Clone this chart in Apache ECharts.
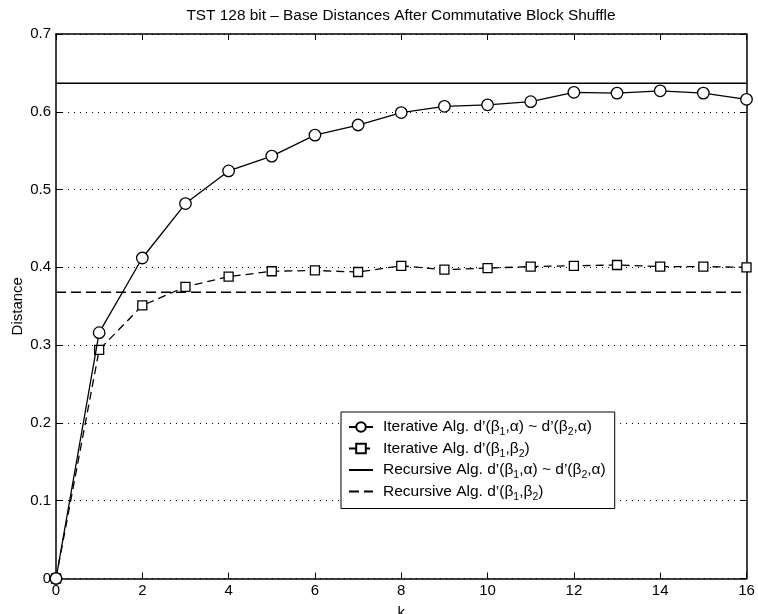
<!DOCTYPE html>
<html>
<head>
<meta charset="utf-8">
<script src="https://cdn.jsdelivr.net/npm/echarts@6/dist/echarts.min.js"></script>
<style>
    html, body { margin: 0; padding: 0; background: #fff; }
    #main { width: 758px; height: 614px; }
</style>
</head>
<body>
<div id="main"></div>
<script>
// 数据
var kValues = [0, 1, 2, 3, 4, 5, 6, 7, 8, 9, 10, 11, 12, 13, 14, 15, 16];
var iterAlpha = [0, 0.316, 0.412, 0.482, 0.524, 0.543, 0.570, 0.583, 0.599, 0.607, 0.609, 0.613, 0.625, 0.624, 0.627, 0.624, 0.616];
var iterBeta = [0, 0.294, 0.351, 0.375, 0.388, 0.395, 0.396, 0.394, 0.402, 0.397, 0.399, 0.401, 0.402, 0.403, 0.401, 0.401, 0.400];
var recKEnds = [0, 16];
var recAlpha = [0.6366, 0.6366];
var recBeta = [0.3679, 0.3679];
var seriesNames = [
    'Iterative Alg. d’(β1,α) ~ d’(β2,α)',
    'Iterative Alg. d’(β1,β2)',
    'Recursive Alg. d’(β1,α) ~ d’(β2,α)',
    'Recursive Alg. d’(β1,β2)'
];

function pairs(xs, ys) {
    return xs.map(function (x, i) { return [x, ys[i]]; });
}

var FONT = "'Liberation Sans', Arial, Helvetica, sans-serif";

{
    var dom = document.getElementById('main');
    var myChart = echarts.init(dom);

    var option = {
        animation: false,
        backgroundColor: '#fff',
        textStyle: { fontFamily: FONT, color: '#000' },
        title: {
            text: 'TST 128 bit – Base Distances After Commutative Block Shuffle',
            left: 401,
            textAlign: 'center',
            top: 8,
            padding: 0,
            textStyle: { fontFamily: FONT, fontSize: 15.4, fontWeight: 'normal', color: '#000' }
        },
        grid: { left: 56, right: 11.5, top: 34, bottom: 35.5, outerBoundsMode: 'none', containLabel: false },
        legend: {
            orient: 'vertical',
            left: 341,
            top: 412,
            padding: [7, 9, 6, 7],
            itemGap: 2.5,
            itemWidth: 24,
            itemHeight: 12,
            borderColor: '#000',
            borderWidth: 1,
            borderRadius: 0,
            backgroundColor: '#fff',
            data: seriesNames,
            formatter: function (name) {
                return '{n|' + name.replace(/β(\d)/g, 'β}{s|$1}{n|') + '}';
            },
            textStyle: {
                fontFamily: FONT,
                color: '#000',
                padding: [0, 0, 0, 5],
                rich: {
                    n: { fontFamily: FONT, fontSize: 15.5, color: '#000', lineHeight: 22, verticalAlign: 'middle' },
                    s: { fontFamily: FONT, fontSize: 10.5, color: '#000', lineHeight: 22, verticalAlign: 'bottom' }
                }
            }
        },
        xAxis: [{
            type: 'value',
            min: 0,
            max: 16,
            interval: 2,
            name: 'k',
            nameLocation: 'middle',
            nameGap: 27,
            nameMoveOverlap: false,
            nameTextStyle: { fontFamily: FONT, fontSize: 15, color: '#000' },
            axisLine: { onZero: false, lineStyle: { color: '#000', width: 1.5 } },
            axisTick: { inside: true, length: 6, lineStyle: { color: '#000', width: 1 } },
            axisLabel: { margin: 5, fontFamily: FONT, fontSize: 15, color: '#000' },
            splitLine: { show: false }
        }, {
            type: 'value',
            position: 'top',
            min: 0,
            max: 16,
            interval: 2,
            axisLine: { show: true, onZero: false, lineStyle: { color: '#000', width: 1.5 } },
            axisTick: { inside: true, length: 6, lineStyle: { color: '#000', width: 1 } },
            axisLabel: { show: false },
            splitLine: { show: false }
        }],
        yAxis: [{
            type: 'value',
            min: 0,
            max: 0.7,
            interval: 0.1,
            name: 'Distance',
            nameLocation: 'middle',
            nameGap: 31,
            nameMoveOverlap: false,
            nameTextStyle: { fontFamily: FONT, fontSize: 15, color: '#000' },
            axisLine: { show: true, onZero: false, lineStyle: { color: '#000', width: 1.5 } },
            axisTick: { show: true, inside: true, length: 6, lineStyle: { color: '#000', width: 1 } },
            axisLabel: { margin: 5, fontFamily: FONT, fontSize: 15, color: '#000' },
            splitLine: { show: true, lineStyle: { color: '#000', width: 1, type: [1, 5] } }
        }, {
            type: 'value',
            position: 'right',
            min: 0,
            max: 0.7,
            interval: 0.1,
            axisLine: { show: true, onZero: false, lineStyle: { color: '#000', width: 1.5 } },
            axisTick: { show: true, inside: true, length: 6, lineStyle: { color: '#000', width: 1 } },
            axisLabel: { show: false },
            splitLine: { show: false }
        }],
        series: [
            {
                name: seriesNames[0],
                type: 'line',
                data: pairs(kValues, iterAlpha),
                symbol: 'circle',
                symbolSize: 11.5,
                lineStyle: { color: '#000', width: 1.3 },
                itemStyle: { color: '#fff', borderColor: '#000', borderWidth: 1.3 },
                z: 4
            },
            {
                name: seriesNames[1],
                type: 'line',
                data: pairs(kValues, iterBeta),
                symbol: 'rect',
                symbolSize: 9,
                lineStyle: { color: '#000', width: 1.3, type: [8, 5] },
                itemStyle: { color: '#fff', borderColor: '#000', borderWidth: 1.3 },
                z: 3
            },
            {
                name: seriesNames[2],
                type: 'line',
                data: pairs(recKEnds, recAlpha),
                symbol: 'none',
                lineStyle: { color: '#000', width: 1.5 },
                itemStyle: { color: 'rgba(0,0,0,0)', borderWidth: 0 },
                z: 2
            },
            {
                name: seriesNames[3],
                type: 'line',
                data: pairs(recKEnds, recBeta),
                symbol: 'none',
                lineStyle: { color: '#000', width: 1.5, type: [10, 5] },
                itemStyle: { color: 'rgba(0,0,0,0)', borderWidth: 0 },
                z: 2
            }
        ]
    };

    if (option && typeof option === "object") {
        myChart.setOption(option, true);
    }
}
</script>
</body>
</html>
